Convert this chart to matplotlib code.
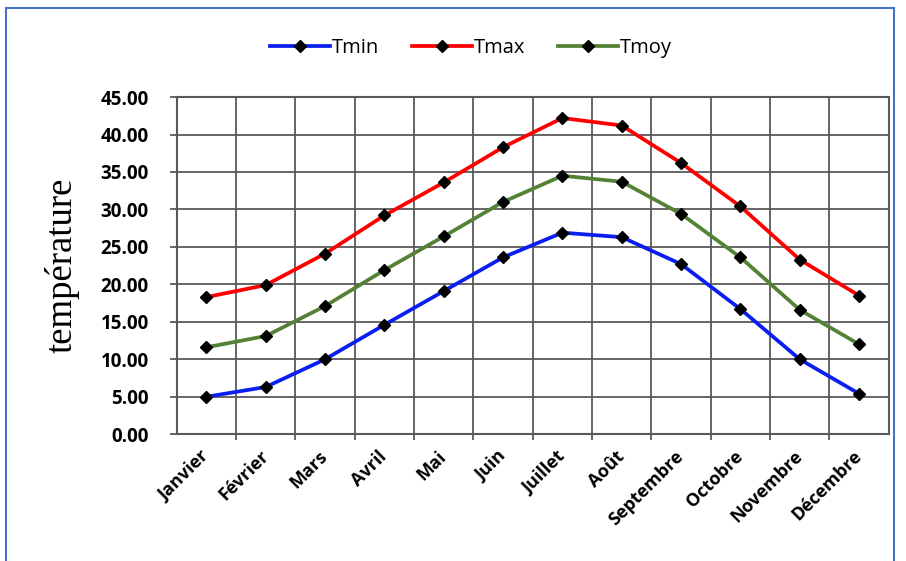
import numpy as np
import matplotlib
matplotlib.use('Agg')
import matplotlib.pyplot as plt
from matplotlib.patches import Rectangle
from matplotlib.ticker import FixedLocator, FormatStrFormatter

months = ['Janvier', 'Février', 'Mars', 'Avril', 'Mai', 'Juin', 'Juillet',
          'Août', 'Septembre', 'Octobre', 'Novembre', 'Décembre']
tmin = [5.0, 6.3, 10.0, 14.6, 19.1, 23.6, 26.9, 26.3, 22.7, 16.7, 10.0, 5.4]
tmax = [18.3, 19.9, 24.1, 29.2, 33.6, 38.3, 42.2, 41.2, 36.2, 30.4, 23.3, 18.5]
tmoy = [11.6, 13.1, 17.1, 21.9, 26.4, 31.0, 34.5, 33.7, 29.4, 23.6, 16.6, 12.0]

plt.rcParams['font.family'] = ['Open Sans', 'DejaVu Sans']

fig = plt.figure(figsize=(9.06, 5.61), dpi=100)
ax = fig.add_axes([0.195, 0.226, 0.786, 0.601])

# blue frame around the chart
fig.patches.append(Rectangle((6 / 906, -0.05), 888 / 906, 1.05 - 8 / 561,
                             transform=fig.transFigure, fill=False,
                             edgecolor='#4472C4', linewidth=1.5))

x = np.arange(len(months))
series = [('Tmin', tmin, '#0A1EF0'), ('Tmax', tmax, '#FF0000'), ('Tmoy', tmoy, '#548235')]
for name, vals, col in series:
    ax.plot(x, vals, color=col, linewidth=2.7, marker='D', markersize=6.5,
            markerfacecolor='black', markeredgecolor='black', label=name, zorder=3)

ax.set_xlim(-0.5, len(months) - 0.5)
ax.set_ylim(0, 45)
ax.yaxis.set_major_locator(FixedLocator(np.arange(0, 46, 5)))
ax.yaxis.set_major_formatter(FormatStrFormatter('%.2f'))
ax.set_xticks(x)
ax.set_xticklabels(months, rotation=45, ha='right', va='center', rotation_mode='anchor',
                   fontsize=13, fontweight='bold')
ax.xaxis.set_minor_locator(FixedLocator(np.arange(0.5, len(months) - 0.5, 1)))
for lab in ax.get_yticklabels():
    lab.set_fontsize(13.5)
    lab.set_fontweight('bold')

gcol = '#595959'
ax.grid(axis='y', which='major', color=gcol, linewidth=1.3)
ax.grid(axis='x', which='minor', color=gcol, linewidth=1.3)
ax.tick_params(axis='x', which='major', length=0, pad=14)
ax.tick_params(axis='x', which='minor', length=4, color=gcol, width=1.3)
ax.tick_params(axis='y', length=5, color=gcol, width=1.3, pad=15)
for sp in ax.spines.values():
    sp.set_color(gcol)
    sp.set_linewidth(1.5)

ax.set_ylabel('température', family='Liberation Serif', fontsize=26.5, labelpad=15)

fig.legend(loc='upper center', bbox_to_anchor=(0.52, 0.965), ncol=3, frameon=False,
           fontsize=14.5, handlelength=3.0, handletextpad=0.1, columnspacing=1.6)

fig.savefig('out.png', dpi=100)
